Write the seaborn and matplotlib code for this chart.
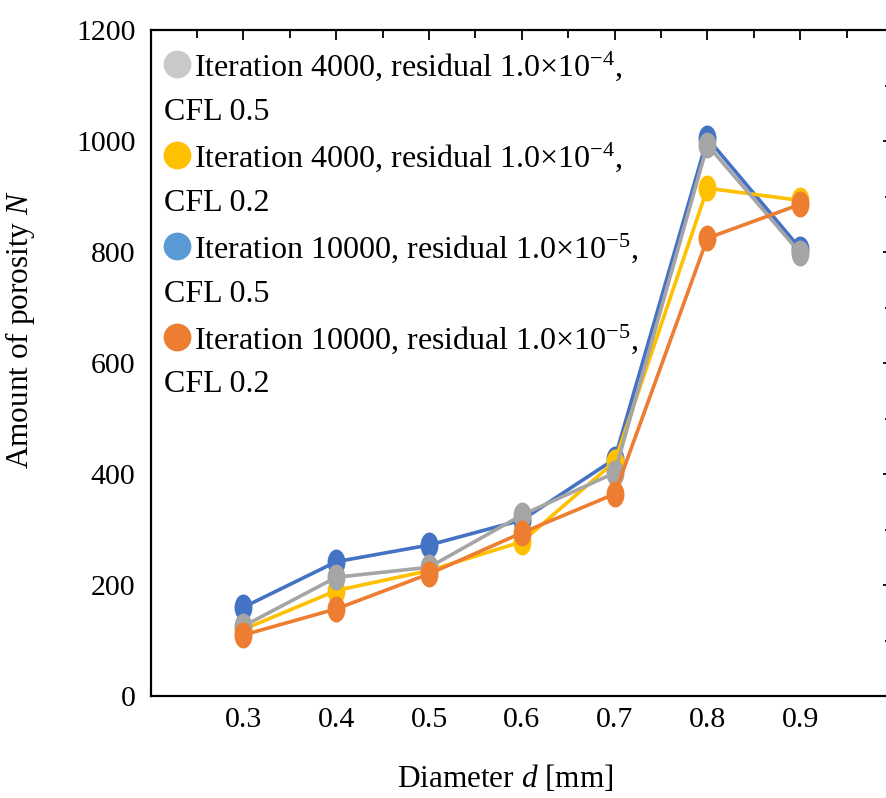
import numpy as np
import pandas as pd
import matplotlib
matplotlib.use("Agg")
import matplotlib.pyplot as plt
import seaborn as sb
from matplotlib.path import Path
from matplotlib.transforms import Affine2D
from matplotlib.lines import Line2D
from matplotlib.ticker import MultipleLocator

sb.set_style("white")
plt.rcParams['font.family'] = ['Liberation Serif', 'DejaVu Serif']
plt.rcParams['mathtext.fontset'] = 'custom'
plt.rcParams['mathtext.rm'] = 'Liberation Serif'
plt.rcParams['mathtext.it'] = 'Liberation Serif:italic'
for key in ['text.color', 'axes.labelcolor', 'xtick.color', 'ytick.color']:
    plt.rcParams[key] = 'black'

# data
diameter = [0.3, 0.4, 0.5, 0.6, 0.7, 0.8, 0.9]
it4000_cfl05 = [126, 214, 232, 326, 402, 993, 798]     # gray
it4000_cfl02 = [120, 190, 226, 278, 422, 915, 893]     # yellow
it10000_cfl05 = [160, 242, 272, 317, 427, 1005, 806]   # blue
it10000_cfl02 = [110, 157, 220, 294, 364, 825, 886]    # orange

series_names = ["it4000_cfl05", "it4000_cfl02", "it10000_cfl05", "it10000_cfl02"]
series_values = [it4000_cfl05, it4000_cfl02, it10000_cfl05, it10000_cfl02]
line_colors = ["#A5A5A5", "#FFC000", "#4472C4", "#ED7D31"]
legend_colors = ["#C9C9C9", "#FFC000", "#5B9BD5", "#ED7D31"]
legend_first = ["Iteration 4000, residual 1.0×10$^{-4}$,",
                "Iteration 4000, residual 1.0×10$^{-4}$,",
                "Iteration 10000, residual 1.0×10$^{-5}$,",
                "Iteration 10000, residual 1.0×10$^{-5}$,"]
legend_second = ["CFL 0.5", "CFL 0.2", "CFL 0.5", "CFL 0.2"]
draw_order = ["it10000_cfl05", "it4000_cfl02", "it4000_cfl05", "it10000_cfl02"]

df = pd.DataFrame({
    "Diameter": np.tile(diameter, len(series_names)),
    "N": np.concatenate(series_values),
    "Series": np.repeat(series_names, len(diameter)),
})
palette = dict(zip(series_names, line_colors))

# squashed circle marker, like the original
ellipse = Affine2D().scale(0.69, 1.0).transform_path(Path.unit_circle())

fig = plt.figure(figsize=(8.87, 7.98), dpi=100)
ax = fig.add_axes([0.1699, 0.1278, 0.8369, 0.8346])

sb.lineplot(data=df, x="Diameter", y="N", hue="Series", hue_order=draw_order,
            palette=palette, marker=ellipse, markersize=18.7, markeredgewidth=0,
            linewidth=2.6, legend=False, ax=ax)

ax.set_xlim(0.2, 1.0)
ax.set_ylim(0, 1200)
ax.set_xticks(diameter)
ax.set_xticklabels([f"{d:.1f}" for d in diameter])
ax.xaxis.set_minor_locator(MultipleLocator(0.05))
ax.set_yticks(range(0, 1201, 200))
ax.yaxis.set_minor_locator(MultipleLocator(100))

for s in ax.spines.values():
    s.set_linewidth(1.6)
    s.set_color("black")
ax.tick_params(which="both", direction="in", top=True, right=True,
               color="black", width=1.3)
ax.tick_params(which="major", length=7)
ax.tick_params(which="minor", length=5.5)
ax.tick_params(axis="x", labelsize=21.5, pad=8)
ax.tick_params(axis="y", labelsize=21.5, pad=11)

ax.set_xlabel("Diameter $d$ [mm]", fontsize=22.5)
ax.set_ylabel("Amount of porosity $N$", fontsize=22.5)
ax.xaxis.set_label_coords(0.477, -0.1)
ax.yaxis.set_label_coords(-0.153, 0.55)

handles = [Line2D([], [], linestyle="none", marker="o", markersize=20,
                  markeredgewidth=0, color=c) for c in legend_colors]
ax.legend(handles, legend_first, loc="upper left", bbox_to_anchor=(0.0166, 0.9715),
          frameon=False, fontsize=23, handlelength=0.9, handletextpad=0.08,
          borderpad=0, borderaxespad=0, labelspacing=1.8)

for txt, yb in zip(legend_second, [0.8649, 0.7282, 0.5916, 0.4565]):
    ax.text(0.0178, yb, txt, transform=ax.transAxes, fontsize=23,
            ha="left", va="baseline")

fig.savefig("out.png", dpi=100)
